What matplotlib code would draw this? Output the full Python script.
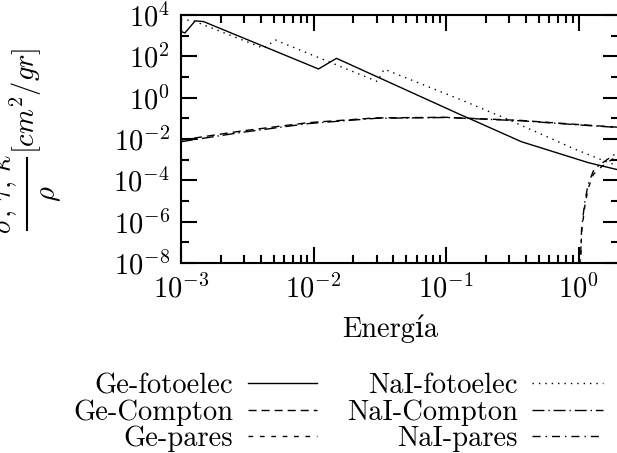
import numpy as np
import matplotlib
matplotlib.use("Agg")
import matplotlib.pyplot as plt
from matplotlib.lines import Line2D
from matplotlib.ticker import FixedLocator, FixedFormatter, NullFormatter, LogLocator

plt.rcParams['mathtext.fontset'] = 'cm'
TXT = ['cmr10', 'DejaVu Serif']
FS = 20.5

# ---------------- data (MeV, cm^2/g) ----------------
ge_foto_E = [1.0e-3, 1.07e-3, 1.28e-3, 1.48e-3, 1.09e-2, 1.49e-2, 0.130, 0.155, 0.37, 1.19, 2.0]
ge_foto = [1.6e3, 1.35e3, 5.2e3, 4.8e3, 24.5, 80.0, 0.145, 0.089, 7.4e-3, 7.1e-4, 3.2e-4]

nai_foto_E = [1.0e-3, 1.24e-3, 4.21e-3, 5.15e-3, 0.0304, 0.0341, 0.130, 0.293, 0.94, 1.62, 2.0]
nai_foto = [6.2e3, 5.2e3, 245.0, 617.0, 6.0, 24.0, 0.78, 0.089, 3.2e-3, 7.9e-4, 5.0e-4]

compton_E = [1.0e-3, 2.88e-3, 9.2e-3, 0.0295, 0.1, 0.37, 1.0, 2.0]
ge_compton = [8.9e-3, 0.0245, 0.062, 0.105, 0.112, 0.079, 0.050, 0.037]
nai_compton = [7.4e-3, 0.021, 0.056, 0.100, 0.110, 0.076, 0.048, 0.036]

pares_E = [1.023, 1.054, 1.116, 1.18, 1.29, 1.41, 1.54, 1.68, 2.0]
ge_pares = [2e-9, 3.2e-7, 6.3e-6, 4.0e-5, 1.9e-4, 3.4e-4, 5.4e-4, 7.9e-4, 1.66e-3]
nai_pares = [3e-9, 5.0e-7, 1.0e-5, 6.3e-5, 2.8e-4, 5.0e-4, 7.6e-4, 1.12e-3, 2.4e-3]

labels = ['Ge-fotoelec', 'Ge-Compton', 'Ge-pares',
          'NaI-fotoelec', 'NaI-Compton', 'NaI-pares']

x_major = [1e-3, 1e-2, 1e-1, 1e0]
x_ticklabels = [r'$10^{-3}$', r'$10^{-2}$', r'$10^{-1}$', r'$10^{0}$']
y_major = [1e-8, 1e-6, 1e-4, 1e-2, 1e0, 1e2, 1e4]
y_ticklabels = [r'$10^{-8}$', r'$10^{-6}$', r'$10^{-4}$', r'$10^{-2}$',
                r'$10^{0}$', r'$10^{2}$', r'$10^{4}$']
y_minor = [1e-7, 1e-5, 1e-3, 1e-1, 1e1, 1e3]

xlabel = 'Energía'
ylabel_num = r'$\sigma,\,\tau,\,\kappa$'
ylabel_den = r'$\rho$'
ylabel_unit = r'$[cm^2/gr]$'

# ---------------- styles ----------------
LW = 1.0
styles = {
    'Ge-fotoelec': dict(linestyle='-'),
    'Ge-Compton': dict(linestyle=(0, (5.8, 3.6))),
    'Ge-pares': dict(linestyle=(0, (3.4, 4.8))),
    'NaI-fotoelec': dict(linestyle=(0, (1.0, 3.6))),
    'NaI-Compton': dict(linestyle=(0, (8.6, 2.8, 1.0, 2.8))),
    'NaI-pares': dict(linestyle=(0, (5.8, 3.6, 1.0, 3.6))),
}

W, H = 617, 453
AX_L, AX_R, AX_T, AX_B = 181, 618.5, 15, 263
fig = plt.figure(figsize=(W / 100, H / 100), dpi=100)
ax = fig.add_axes([AX_L / W, 1 - AX_B / H, (AX_R - AX_L) / W, (AX_B - AX_T) / H])

series = [
    ('Ge-fotoelec', ge_foto_E, ge_foto),
    ('Ge-Compton', compton_E, ge_compton),
    ('Ge-pares', pares_E, ge_pares),
    ('NaI-fotoelec', nai_foto_E, nai_foto),
    ('NaI-Compton', compton_E, nai_compton),
    ('NaI-pares', pares_E, nai_pares),
]
for name, xs, ys in series:
    ax.plot(xs, ys, color='black', lw=LW, **styles[name])

ax.set_xscale('log')
ax.set_yscale('log')
ax.set_xlim(1e-3, 2.0)
ax.set_ylim(1e-8, 1e4)

ax.xaxis.set_major_locator(FixedLocator(x_major))
ax.xaxis.set_major_formatter(FixedFormatter(x_ticklabels))
ax.xaxis.set_minor_locator(LogLocator(base=10, subs=np.arange(2, 10)))
ax.xaxis.set_minor_formatter(NullFormatter())
ax.yaxis.set_major_locator(FixedLocator(y_major))
ax.yaxis.set_major_formatter(FixedFormatter(y_ticklabels))
ax.yaxis.set_minor_locator(FixedLocator(y_minor))
ax.yaxis.set_minor_formatter(NullFormatter())

ax.tick_params(which='both', direction='in', top=True, right=True, width=1.5,
               labelsize=FS, colors='black')
ax.tick_params(which='major', length=11.5, pad=8)
ax.tick_params(which='minor', length=5.8)
for s in ax.spines.values():
    s.set_linewidth(1.5)

def px(x, y):
    return x / W, 1 - y / H

# x label (baseline near y=337 px, centred at x=390 px)
fig.text(*px(390, 337), xlabel, ha='center', va='baseline', family=TXT, fontsize=FS)

# y label built as a display-style fraction (gnuplot/LaTeX look), rotated
fig.text(*px(11, 194), ylabel_num, rotation=90, rotation_mode='anchor',
         ha='center', va='baseline', fontsize=FS)
fig.text(*px(55, 194), ylabel_den, rotation=90, rotation_mode='anchor',
         ha='center', va='baseline', fontsize=FS)
fig.add_artist(Line2D([27 / W, 27 / W], [1 - 158 / H, 1 - 230 / H],
                      transform=fig.transFigure, color='black', lw=1.5))
fig.text(*px(35, 101), ylabel_unit, rotation=90, rotation_mode='anchor',
         ha='center', va='baseline', fontsize=FS)

# ---------------- legend (gnuplot style: text right-aligned, sample right) ---------
rows_y = [383, 409.5, 436]
cols = [(233, 248, 317), (518, 532, 603)]
for i, name in enumerate(labels):
    c = i // 3
    r = i % 3
    tx, l0, l1 = cols[c]
    ly = rows_y[r]
    fig.text(*px(tx, ly + 10), name, ha='right', va='baseline', family=TXT, fontsize=FS)
    fig.add_artist(Line2D([l0 / W, l1 / W], [1 - ly / H, 1 - ly / H],
                          transform=fig.transFigure, color='black', lw=LW,
                          **styles[name]))

fig.savefig('out.png', dpi=100)
